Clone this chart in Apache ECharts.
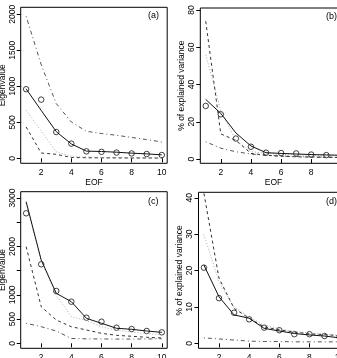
<!DOCTYPE html>
<html><head><meta charset="utf-8">
<script src="https://cdn.jsdelivr.net/npm/echarts@6/dist/echarts.min.js"></script>
<style>html,body{margin:0;padding:0;background:#fff}#c{width:337px;height:358px}</style>
</head><body><div id="c"></div>
<script>
const eof = [1,2,3,4,5,6,7,8,9,10];
const xTicks = [2,4,6,8,10];

// (a) eigenvalues
const aSolid   = [965, 665, 370, 200, 100, 95, 85, 72, 62, 48];
const aCircle  = [960, 815, 365, 204, 97, 90, 80, 68, 60, 46];
const aDashDot = [1972, 1300, 760, 505, 375, 345, 320, 290, 260, 227];
const aDotted  = [667, 380, 90, 28, 18, 14, 12, 10, 9, 8];
const aDashed  = [435, 74, 56, 12, 8, 6, 5, 4, 4, 3];
const aTicks = [0,500,1000,1500,2000];
const aLabels = [0,500,1000,1500,2000];

// (b) % explained variance
const bSolid   = [32, 24.5, 14, 7, 3.4, 3.0, 2.7, 2.4, 2.2, 2.0];
const bCircle  = [28.5, 24, 11, 6.6, 3.4, 3.2, 3.0, 2.4, 2.1, 2.0];
const bDashed  = [74, 13.5, 10, 3, 2, 1.5, 1.2, 1.0, 0.9, 0.8];
const bDotted  = [56, 26, 10, 4, 3, 2.5, 2.2, 2, 1.8, 1.7];
const bDashDot = [9.3, 5.8, 3.9, 2.7, 2.0, 1.6, 1.3, 1.1, 1.0, 0.9];
const bTicks = [0,20,40,60,80];
const bLabels = [0,20,40,60,80];

// (c) eigenvalues
const cSolid   = [2924, 1720, 1032, 859, 516, 413, 310, 289, 254, 227];
const cCircle  = [2684, 1631, 1080, 859, 529, 446, 322, 295, 254, 227];
const cDashed  = [1995, 756, 481, 343, 275, 206, 165, 145, 124, 110];
const cDotted  = [2900, 1700, 990, 550, 470, 340, 270, 230, 200, 180];
const cDashDot = [413, 343, 254, 100, 92, 90, 88, 88, 90, 95];
const cTicks = [0,500,1000,1500,2000,2500,3000];
const cLabels = [0,500,1000,2000,3000];

// (d) % explained variance
const dSolid   = [21.5, 12.8, 7.8, 6.9, 4.1, 3.4, 2.7, 2.3, 2.0, 1.5];
const dCircle  = [20.8, 12.4, 8.4, 6.6, 4.3, 3.6, 2.5, 2.5, 2.0, 1.7];
const dDashed  = [41.2, 17.9, 9.6, 6.9, 4.5, 3.7, 3.1, 2.6, 2.4, 2.1];
const dDotted  = [29.9, 16.9, 10, 7.2, 5, 4, 3.3, 2.8, 2.5, 2.2];
const dDashDot = [1.5, 1.2, 0.9, 0.6, 0.5, 0.5, 0.4, 0.4, 0.4, 0.4];
const dTicks = [0,10,20,30,40];
const dLabels = [0,10,20,30,40];

const FONT = '"Liberation Sans", Arial, Helvetica, sans-serif';
const pairs = v => eof.map((x,i)=>[x, v[i]]);
const plain = v => String(v);

const panels = [
  {grid:{left:20.7, top:7.3, width:146.5, height:156}, ymin:-69, ymax:2097, ticks:aTicks, labels:aLabels, name:'Eigenvalue', gap:11, tag:'(a)', tagPos:[148,11],
   solid:aSolid, circle:aCircle, dashed:aDashed, dotted:aDotted, dashdot:aDashDot},
  {grid:{left:200.3, top:8, width:146.5, height:155.3}, ymin:-2.3, ymax:81.1, ticks:bTicks, labels:bLabels, name:'% of explained variance', gap:9, tag:'(b)', tagPos:[326,12],
   solid:bSolid, circle:bCircle, dashed:bDashed, dotted:bDotted, dashdot:bDashDot},
  {grid:{left:20.7, top:191.7, width:146.5, height:156.6}, ymin:-103, ymax:3130, ticks:cTicks, labels:cLabels, name:'Eigenvalue', gap:11, tag:'(c)', tagPos:[148,197],
   solid:cSolid, circle:cCircle, dashed:cDashed, dotted:cDotted, dashdot:cDashDot},
  {grid:{left:198.5, top:192.3, width:146.5, height:156}, ymin:-1.37, ymax:41.5, ticks:dTicks, labels:dLabels, name:'% of explained variance', gap:9, tag:'(d)', tagPos:[326,197],
   solid:dSolid, circle:dCircle, dashed:dDashed, dotted:dDotted, dashdot:dDashDot}
];

const grids = [], xAxes = [], yAxes = [], series = [], graphics = [];
panels.forEach((p, i) => {
  grids.push(Object.assign({show:true, borderColor:'#000', borderWidth:1, backgroundColor:'transparent',
    containLabel:false, outerBoundsMode:'none'}, p.grid));
  xAxes.push({
    type:'value', gridIndex:i, min:0.64, max:10.36,
    name:'EOF', nameLocation:'middle', nameGap:11,
    nameTextStyle:{fontSize:8.5, fontFamily:FONT, color:'#000'},
    axisLine:{show:false}, splitLine:{show:false},
    axisTick:{show:true, inside:false, length:4, customValues:xTicks, lineStyle:{color:'#000'}},
    axisLabel:{show:true, margin:5, fontSize:8.5, fontFamily:FONT, color:'#000', customValues:xTicks, formatter:plain}
  });
  yAxes.push({
    type:'value', gridIndex:i, min:p.ymin, max:p.ymax,
    name:p.name, nameLocation:'middle', nameGap:p.gap,
    nameTextStyle:{fontSize:8.5, fontFamily:FONT, color:'#000'},
    axisLine:{show:false}, splitLine:{show:false},
    axisTick:{show:true, inside:false, length:4, customValues:p.ticks, lineStyle:{color:'#000'}},
    axisLabel:{show:true, rotate:90, margin:4, fontSize:8.5, fontFamily:FONT, color:'#000', customValues:p.labels, formatter:plain}
  });
  const base = {xAxisIndex:i, yAxisIndex:i, type:'line', symbol:'none', animation:false, silent:true};
  series.push(Object.assign({}, base, {data:pairs(p.dashdot), lineStyle:{color:'#555', width:1, type:[1,3,4,3]}}));
  series.push(Object.assign({}, base, {data:pairs(p.dotted), lineStyle:{color:'#aaa', width:1, type:[1,2]}}));
  series.push(Object.assign({}, base, {data:pairs(p.dashed), lineStyle:{color:'#333', width:1, type:[3,3]}}));
  series.push(Object.assign({}, base, {data:pairs(p.solid), lineStyle:{color:'#111', width:1, type:'solid'}}));
  series.push({xAxisIndex:i, yAxisIndex:i, type:'scatter', symbol:'circle', symbolSize:5.5, animation:false, silent:true,
    data:pairs(p.circle), itemStyle:{color:'rgba(0,0,0,0)', borderColor:'#111', borderWidth:1}});
  graphics.push({type:'text', left:p.tagPos[0], top:p.tagPos[1], style:{text:p.tag, font:'9px ' + FONT, fill:'#000'}});
});

const chart = echarts.init(document.getElementById('c'), null, {renderer:'canvas'});
chart.setOption({
  animation:false,
  grid:grids, xAxis:xAxes, yAxis:yAxes, series:series, graphic:graphics
});
</script>
</body></html>
